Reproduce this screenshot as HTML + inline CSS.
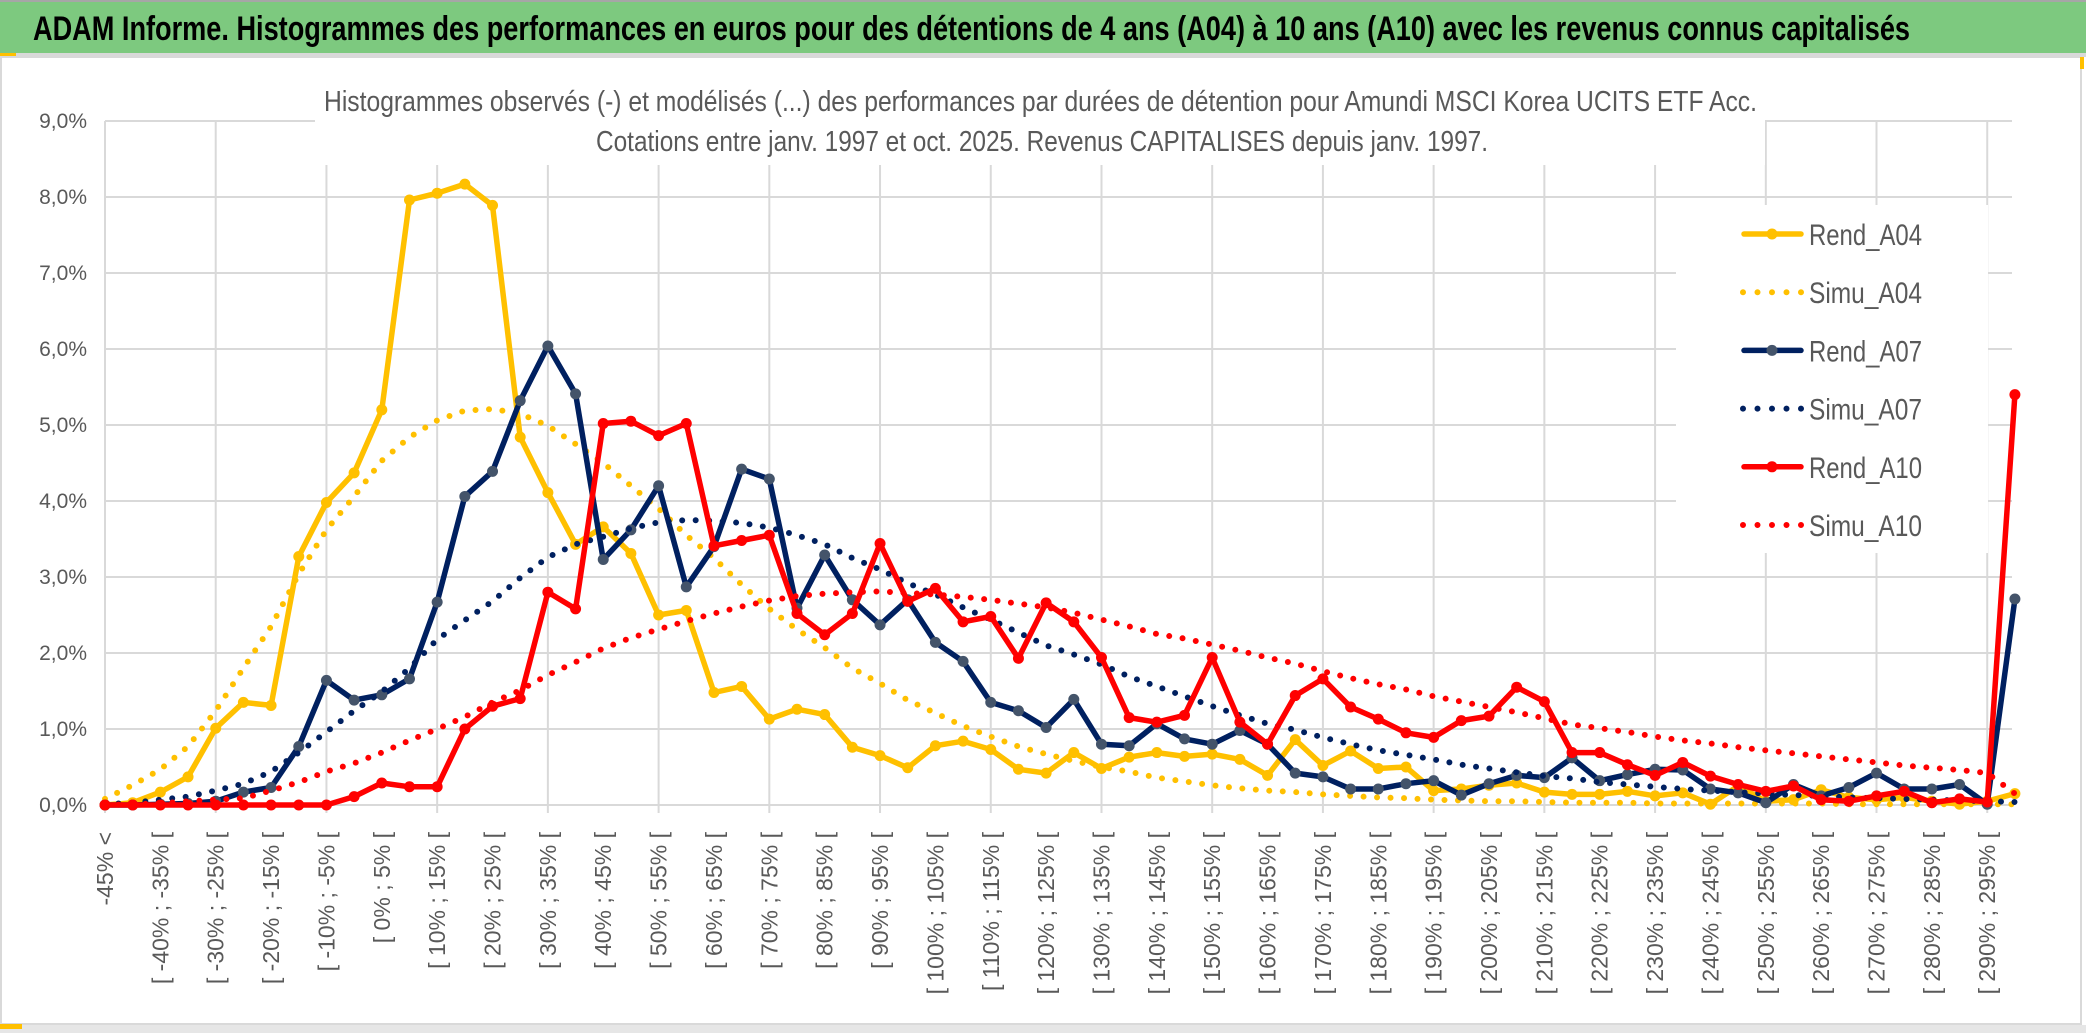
<!DOCTYPE html>
<html><head><meta charset="utf-8"><style>
html,body{margin:0;padding:0;background:#fff;}
svg{display:block;font-family:"Liberation Sans",sans-serif;}
</style></head><body>
<svg id="chart" width="2086" height="1033" viewBox="0 0 2086 1033">
  <rect x="0" y="0" width="2086" height="1033" fill="#fff"/>
  <rect x="0" y="0" width="2086" height="2" fill="#a6a6a6"/>
  <rect x="0" y="2" width="2086" height="51" fill="#7dc97f"/>
  <text x="33" y="40" font-size="34" font-weight="bold" fill="#000" textLength="1877" lengthAdjust="spacingAndGlyphs">ADAM Informe. Histogrammes des performances en euros pour des détentions de 4 ans (A04) à 10 ans (A10) avec les revenus connus capitalisés</text>
  <rect x="0" y="53" width="2086" height="4" fill="#d9d9d9"/>
  <rect x="0" y="53" width="16" height="3" fill="#ffc000"/>
  <rect x="1" y="57" width="2080" height="967" fill="#fff" stroke="#d9d9d9" stroke-width="2"/>
  <rect x="0" y="1025" width="2086" height="8" fill="#e6e6e6"/>
  <rect x="0" y="1024" width="22" height="5" fill="#ffc000"/>
  <rect x="2080" y="57" width="4" height="12" fill="#ffc000"/>
  <g id="grid"></g>
  <g id="yaxis"></g>
  <g id="xaxis"></g>
  <rect x="315" y="70" width="1450" height="95" fill="#fff"/>
  <text x="324" y="111" font-size="29" fill="#595959" textLength="1433" lengthAdjust="spacingAndGlyphs">Histogrammes observés (-) et modélisés (...) des performances par durées de détention pour Amundi MSCI Korea UCITS ETF Acc.</text>
  <text x="596" y="151" font-size="29" fill="#595959" textLength="892" lengthAdjust="spacingAndGlyphs">Cotations entre janv. 1997 et oct. 2025. Revenus CAPITALISES depuis janv. 1997.</text>
  <g id="series"></g>
  <rect x="1676" y="205" width="312" height="348" fill="#fff"/>
  <g id="legend"></g>
</svg>
<script>
const categories = [];
categories.push("-45% <");
for (let a = -45; a <= 295; a += 5) categories.push("[ " + a + "% ; " + (a + 5) + "% [");
const yTicks = [0,1,2,3,4,5,6,7,8,9];
const yTickLabels = ["0,0%","1,0%","2,0%","3,0%","4,0%","5,0%","6,0%","7,0%","8,0%","9,0%"];
const rendA04 = [0,0.03,0.17,0.37,1.01,1.35,1.31,3.27,3.98,4.37,5.2,7.96,8.05,8.17,7.89,4.84,4.11,3.43,3.66,3.31,2.5,2.56,1.48,1.56,1.13,1.26,1.19,0.76,0.65,0.49,0.78,0.84,0.73,0.47,0.42,0.69,0.48,0.63,0.69,0.64,0.67,0.6,0.39,0.86,0.52,0.71,0.48,0.5,0.19,0.21,0.26,0.29,0.17,0.14,0.14,0.18,0.12,0.16,0.01,0.25,0.05,0.07,0.2,0.1,0.07,0.1,0.05,0.01,0.05,0.15];
const simuA04 = [0.08,0.26,0.47,0.77,1.24,1.8,2.35,3.04,3.62,4.06,4.53,4.84,5.06,5.19,5.21,5.15,4.99,4.75,4.5,4.2,3.9,3.55,3.25,2.9,2.58,2.31,2.07,1.8,1.6,1.38,1.21,1.04,0.9,0.77,0.67,0.58,0.5,0.44,0.36,0.31,0.26,0.22,0.19,0.17,0.14,0.12,0.1,0.09,0.07,0.06,0.05,0.05,0.04,0.03,0.03,0.03,0.02,0.02,0.02,0.02,0.02,0.02,0.02,0.01,0.01,0.01,0.01,0.01,0.01,0.01];
const rendA07 = [0,0,0.01,0.02,0.05,0.17,0.23,0.77,1.64,1.38,1.45,1.66,2.67,4.06,4.39,5.32,6.04,5.41,3.23,3.62,4.2,2.87,3.4,4.42,4.29,2.59,3.29,2.7,2.37,2.7,2.14,1.89,1.35,1.24,1.02,1.39,0.8,0.78,1.07,0.87,0.8,0.98,0.8,0.42,0.37,0.21,0.21,0.28,0.32,0.13,0.28,0.39,0.36,0.62,0.32,0.4,0.47,0.46,0.21,0.16,0.03,0.27,0.12,0.23,0.42,0.21,0.21,0.27,0.01,2.71];
const simuA07 = [0.01,0.03,0.07,0.11,0.19,0.28,0.44,0.69,0.96,1.24,1.49,1.8,2.18,2.43,2.68,2.99,3.26,3.43,3.53,3.64,3.72,3.75,3.74,3.71,3.65,3.55,3.43,3.25,3.1,2.92,2.77,2.6,2.44,2.27,2.1,1.98,1.85,1.69,1.56,1.43,1.3,1.18,1.07,0.99,0.89,0.8,0.72,0.66,0.6,0.53,0.48,0.43,0.38,0.35,0.3,0.27,0.24,0.21,0.19,0.17,0.15,0.13,0.12,0.1,0.09,0.08,0.07,0.06,0.05,0.04];
const rendA10 = [0,0,0,0,0,0,0,0,0,0.11,0.29,0.24,0.24,1.0,1.3,1.4,2.8,2.58,5.02,5.05,4.86,5.02,3.41,3.48,3.55,2.52,2.24,2.52,3.44,2.68,2.85,2.41,2.48,1.93,2.66,2.41,1.94,1.15,1.09,1.18,1.94,1.09,0.8,1.44,1.66,1.29,1.13,0.95,0.89,1.11,1.17,1.55,1.36,0.69,0.69,0.53,0.39,0.56,0.38,0.27,0.18,0.25,0.07,0.05,0.12,0.18,0.03,0.08,0.04,5.4];
const simuA10 = [0,0.01,0.02,0.05,0.07,0.09,0.19,0.3,0.44,0.55,0.69,0.85,1.0,1.16,1.35,1.51,1.71,1.88,2.06,2.2,2.31,2.42,2.52,2.61,2.69,2.75,2.78,2.8,2.81,2.79,2.77,2.74,2.7,2.65,2.6,2.53,2.44,2.35,2.25,2.19,2.11,2.03,1.94,1.86,1.76,1.67,1.59,1.52,1.43,1.36,1.29,1.22,1.14,1.06,1.01,0.96,0.9,0.85,0.81,0.76,0.72,0.68,0.64,0.6,0.56,0.52,0.49,0.46,0.42,0.15];
const seriesNames = ["Rend_A04","Simu_A04","Rend_A07","Simu_A07","Rend_A10","Simu_A10"];

const NS = "http://www.w3.org/2000/svg";
const X0 = 105, STEP = 27.68, Y0 = 805, YUNIT = 76;
function xs(i){ return X0 + STEP * i; }
function ys(v){ return Y0 - YUNIT * v; }
function mk(tag, attrs, parent){
  const e = document.createElementNS(NS, tag);
  for (const k in attrs) e.setAttribute(k, attrs[k]);
  parent.appendChild(e);
  return e;
}
const grid = document.getElementById('grid');
const plotRight = 2012;
yTicks.forEach(function(t){
  const l = mk('line', {x1: X0, x2: plotRight, y1: ys(t), y2: ys(t), stroke: '#d9d9d9', 'stroke-width': 2}, grid);
  
  
});
for (let i = 0; i < categories.length; i += 4) {
  const l = mk('line', {x1: xs(i), x2: xs(i), y1: ys(9), y2: Y0 + 8, stroke: '#d9d9d9', 'stroke-width': 2}, grid);
  
  
}
const yaxis = document.getElementById('yaxis');
yTicks.forEach(function(t, k){
  const tx = mk('text', {x: 87, y: ys(t) + 7, 'font-size': 21, fill: '#595959', 'text-anchor': 'end'}, yaxis);
  tx.textContent = yTickLabels[k];
  
  
});
const xaxis = document.getElementById('xaxis');
categories.forEach(function(c, i){
  if (i % 2 !== 0) return;
  const x = xs(i) + 8, y = 832;
  const tx = mk('text', {x: x, y: y, 'font-size': 23, fill: '#595959', 'text-anchor': 'end', transform: 'rotate(-90 ' + x + ' ' + y + ')'}, xaxis);
  tx.textContent = c;
  
  
});
const sg = document.getElementById('series');
function pathOf(arr){ return arr.map(function(v,i){ return (i ? 'L' : 'M') + xs(i).toFixed(1) + ' ' + ys(v).toFixed(1); }).join(' '); }
function solid(arr, color, mcolor, name){
  const g = mk('g', {}, sg);
  
  
  const p = mk('path', {d: pathOf(arr), fill: 'none', stroke: color, 'stroke-width': 5.5, 'stroke-linejoin': 'round'}, g);
  
  
  arr.forEach(function(v, i){
    const c = mk('circle', {cx: xs(i), cy: ys(v), r: 5.5, fill: mcolor}, g);
    
    
  });
}
function dotted(arr, color, name){
  const p = mk('path', {d: pathOf(arr), fill: 'none', stroke: color, 'stroke-width': 6, 'stroke-linecap': 'round', 'stroke-dasharray': '0 13.5'}, sg);
  
  
}
solid(rendA04, '#ffc000', '#ffc000', 'rend-a04');
dotted(simuA04, '#ffc000', 'simu-a04');
solid(rendA07, '#002060', '#44546a', 'rend-a07');
dotted(simuA07, '#002060', 'simu-a07');
solid(rendA10, '#ff0000', '#ff0000', 'rend-a10');
dotted(simuA10, '#ff0000', 'simu-a10');

const lg = document.getElementById('legend');
const legColors = ['#ffc000','#ffc000','#002060','#002060','#ff0000','#ff0000'];
const legMarker = ['#ffc000',null,'#44546a',null,'#ff0000',null];
seriesNames.forEach(function(n, k){
  const y = 234 + k * 58.2;
  const g = mk('g', {}, lg);
  
  
  if (legMarker[k]) {
    mk('line', {x1: 1744, x2: 1801, y1: y, y2: y, stroke: legColors[k], 'stroke-width': 5.5, 'stroke-linecap': 'round'}, g);
    mk('circle', {cx: 1772, cy: y, r: 5.5, fill: legMarker[k]}, g);
  } else {
    mk('line', {x1: 1743, x2: 1803, y1: y, y2: y, stroke: legColors[k], 'stroke-width': 6, 'stroke-linecap': 'round', 'stroke-dasharray': '0 14.5'}, g);
  }
  const t = mk('text', {x: 1809, y: y + 11, 'font-size': 30, fill: '#595959', textLength: 113, lengthAdjust: 'spacingAndGlyphs'}, g);
  t.textContent = n;
});
</script>
</body></html>
